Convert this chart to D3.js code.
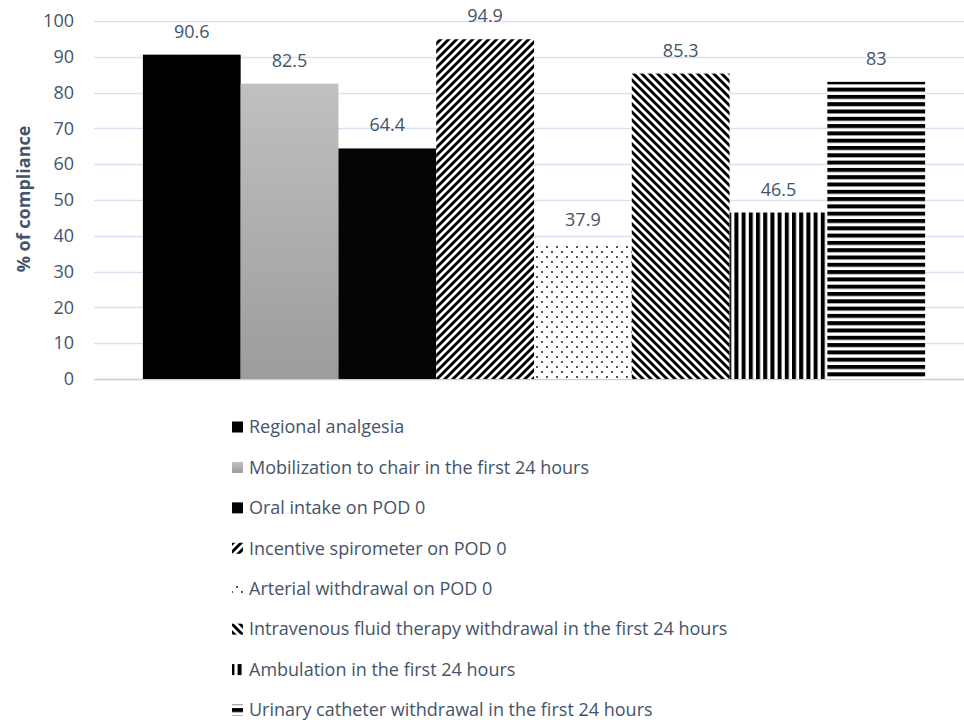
<!DOCTYPE html>
<html><head><meta charset="utf-8">
<script src="https://cdn.jsdelivr.net/npm/d3@7/dist/d3.min.js"></script>
<style>html,body{margin:0;padding:0;background:#fff;}svg{display:block;}</style>
</head><body>
<script>
const categories = [
  "Regional analgesia",
  "Mobilization to chair in the first 24 hours",
  "Oral intake on POD 0",
  "Incentive spirometer on POD 0",
  "Arterial withdrawal on POD 0",
  "Intravenous fluid therapy withdrawal in the first 24 hours",
  "Ambulation in the first 24 hours",
  "Urinary catheter withdrawal in the first 24 hours"
];
const values = [90.6, 82.5, 64.4, 94.9, 37.9, 85.3, 46.5, 83];
const valueLabels = ["90.6", "82.5", "64.4", "94.9", "37.9", "85.3", "46.5", "83"];
const fills = ["solid", "gradient", "solidDark", "diagUp", "dots", "diagDown", "vert", "horiz"];
const yTicks = [0, 10, 20, 30, 40, 50, 60, 70, 80, 90, 100];
const yTitle = "% of compliance";

const W = 964, H = 723;
const textColor = "#44546a";
const font = "'Open Sans', sans-serif";

const svg = d3.select("body").append("svg").attr("width", W).attr("height", H);
const defs = svg.append("defs");

const g = defs.append("linearGradient").attr("id", "gradient").attr("x1", 0).attr("y1", 0).attr("x2", 0).attr("y2", 1);
g.append("stop").attr("offset", "0%").attr("stop-color", "#c0c0c0");
g.append("stop").attr("offset", "100%").attr("stop-color", "#9c9c9c");

let p = defs.append("pattern").attr("id", "diagUp").attr("patternUnits", "userSpaceOnUse").attr("width", 8).attr("height", 8);
p.append("rect").attr("width", 8).attr("height", 8).attr("fill", "#fff");
p.append("path").attr("d", "M-2,2 L2,-2 M0,8 L8,0 M6,10 L10,6").attr("stroke", "#000").attr("stroke-width", 2.9);

p = defs.append("pattern").attr("id", "diagDown").attr("patternUnits", "userSpaceOnUse").attr("width", 8).attr("height", 8);
p.append("rect").attr("width", 8).attr("height", 8).attr("fill", "#fff");
p.append("path").attr("d", "M-2,6 L2,10 M0,0 L8,8 M6,-2 L10,2").attr("stroke", "#000").attr("stroke-width", 2.9);

p = defs.append("pattern").attr("id", "vert").attr("patternUnits", "userSpaceOnUse").attr("width", 7.2).attr("height", 10);
p.append("rect").attr("width", 7.2).attr("height", 10).attr("fill", "#fff");
p.append("rect").attr("width", 4).attr("height", 10).attr("fill", "#000");

p = defs.append("pattern").attr("id", "horiz").attr("patternUnits", "userSpaceOnUse").attr("width", 10).attr("height", 7.3);
p.append("rect").attr("width", 10).attr("height", 7.3).attr("fill", "#fff");
p.append("rect").attr("width", 10).attr("height", 4).attr("fill", "#000");

p = defs.append("pattern").attr("id", "dots").attr("patternUnits", "userSpaceOnUse").attr("width", 10).attr("height", 10);
p.append("rect").attr("width", 10).attr("height", 10).attr("fill", "#fff");
p.append("circle").attr("cx", 2).attr("cy", 2).attr("r", 0.9).attr("fill", "#000");
p.append("circle").attr("cx", 7).attr("cy", 7).attr("r", 0.9).attr("fill", "#000");

function fillOf(f) {
  if (f === "solid") return "#000";
  if (f === "solidDark") return "#050505";
  return "url(#" + f + ")";
}

const x = d3.scaleBand().domain(categories).range([94, 974]).paddingInner(0).paddingOuter(0.5);
const y = d3.scaleLinear().domain([0, 100]).range([379, 21]);

svg.append("g").selectAll("line").data(yTicks).join("line")
  .attr("x1", 94).attr("x2", 974)
  .attr("y1", d => Math.round(y(d)) + 0.5).attr("y2", d => Math.round(y(d)) + 0.5)
  .attr("stroke", d => d === 0 ? "#c9cfd8" : "#d9e1f0").attr("stroke-width", 1.3);

const yAxis = d3.axisLeft(y).tickValues(yTicks).tickSize(0).tickPadding(0);
const ya = svg.append("g").attr("transform", "translate(74,0)").call(yAxis);
ya.select(".domain").remove();
ya.selectAll("text").attr("fill", textColor).style("font-family", font).style("font-size", "18px");

svg.append("text").attr("transform", "translate(24,199) rotate(-90)")
  .attr("text-anchor", "middle").attr("dy", "0.35em").attr("fill", textColor)
  .style("font-family", font).style("font-size", "18px").style("font-weight", "bold")
  .text(yTitle);

svg.append("g").selectAll("rect").data(categories).join("rect")
  .attr("x", d => x(d)).attr("width", x.bandwidth())
  .attr("y", (d, i) => y(values[i])).attr("height", (d, i) => y(0) - y(values[i]))
  .attr("fill", (d, i) => fillOf(fills[i]));

svg.append("g").selectAll("text").data(categories).join("text")
  .attr("x", d => x(d) + x.bandwidth() / 2)
  .attr("y", (d, i) => y(values[i]) - 17)
  .attr("text-anchor", "middle").attr("fill", textColor)
  .style("font-family", font).style("font-size", "18px")
  .text((d, i) => valueLabels[i]);

const leg = svg.append("g");
const rowY = d3.scaleLinear().domain([0, 7]).range([427, 710]);
categories.forEach((c, i) => {
  const cy = rowY(i);
  leg.append("rect").attr("x", 232).attr("y", cy - 5.5).attr("width", 11).attr("height", 11)
    .attr("fill", fillOf(fills[i]));
  leg.append("text").attr("x", 249).attr("y", cy).attr("dy", "0.35em")
    .attr("fill", textColor).style("font-family", font).style("font-size", "18px")
    .text(c);
});
</script>
</body></html>
